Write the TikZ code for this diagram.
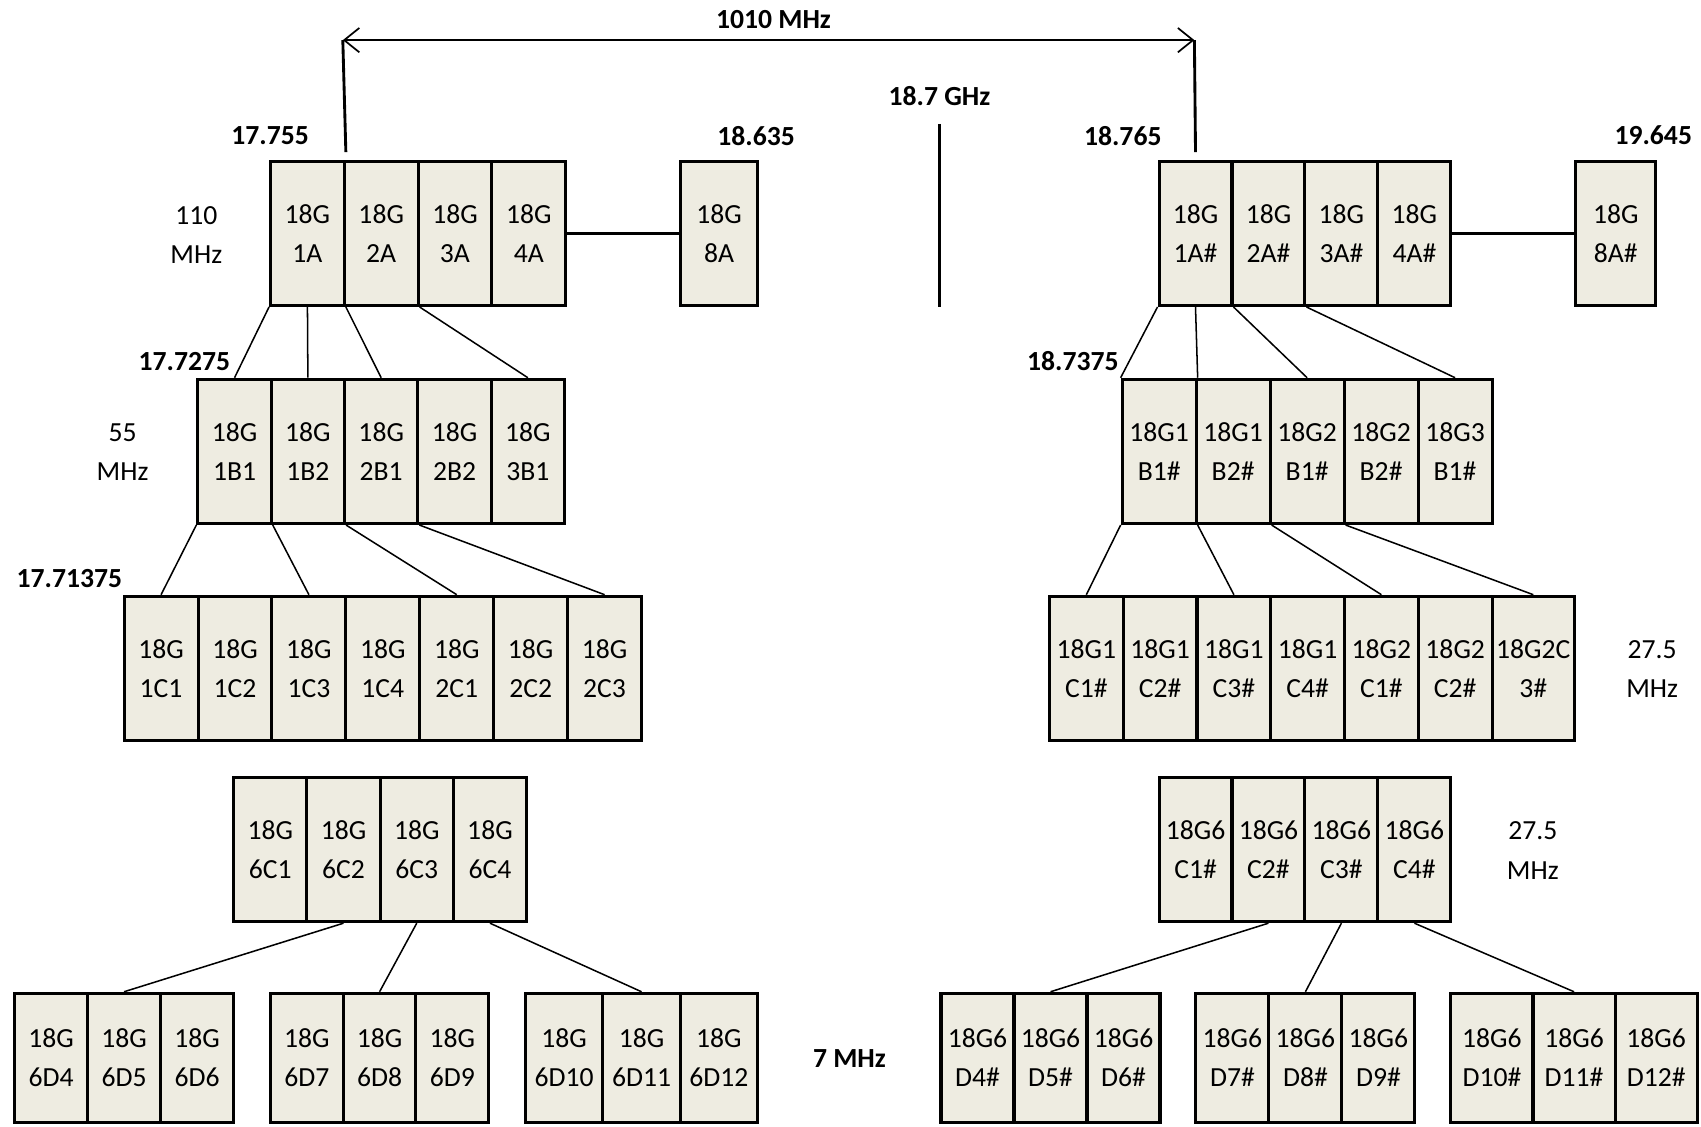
\documentclass[tikz,border=0pt]{standalone}
\usepackage{fontspec}
\setmainfont{Carlito}
\usetikzlibrary{arrows.meta}
\definecolor{cellfill}{HTML}{EEECE1}
\tikzset{
    every node/.append style={font=\fontsize{14.5}{20.5}\selectfont},
    cell/.style={draw, line width=1.6pt, fill=cellfill, align=center, inner sep=0pt, anchor=south west, minimum height=2.66cm},
    cellw/.style={minimum width=#1*0.02cm},
    lowcell/.style={cell, minimum height=2.38cm},
    freq/.style={font=\fontsize{14.5}{20.5}\selectfont\bfseries},
    bw/.style={align=center},
    link/.style={line width=0.8pt},
    marker/.style={line width=1.5pt},
    span/.style={{Straight Barb[length=0.28cm,width=0.45cm]}-{Straight Barb[length=0.28cm,width=0.45cm]}, line width=0.9pt}
}

\begin{document}
\begin{tikzpicture}[x=0.02cm, y=0.02cm]
\useasboundingbox (0,0) rectangle (1568,1038);

% left tree
\foreach \bot [count=\i] in {1A,2A,3A,4A}
    \node[cell, cellw=68] (lA\i) at ({248+(\i-1)*68},755) {18G\\\bot};
\node[cell, cellw=71] (lA8) at (626,755) {18G\\8A};
\foreach \bot [count=\i] in {1B1,1B2,2B1,2B2,3B1}
    \node[cell, cellw=67.6] (lB\i) at ({181+(\i-1)*67.6},554) {18G\\\bot};
\foreach \bot [count=\i] in {1C1,1C2,1C3,1C4,2C1,2C2,2C3}
    \node[cell, cellw=68.14] (lC\i) at ({113+(\i-1)*68.14},354) {18G\\\bot};
\foreach \bot [count=\i] in {6C1,6C2,6C3,6C4}
    \node[cell, cellw=67.5] (lE\i) at ({214+(\i-1)*67.5},187) {18G\\\bot};
\foreach \bot [count=\i] in {6D4,6D5,6D6}
    \node[lowcell, cellw=67.3] (lD\i) at ({12+(\i-1)*67.3},2) {18G\\\bot};
\foreach \bot [count=\i from 4] in {6D7,6D8,6D9}
    \node[lowcell, cellw=67] (lD\i) at ({248+(\i-4)*67},2) {18G\\\bot};
\foreach \bot [count=\i from 7] in {6D10,6D11,6D12}
    \node[lowcell, cellw=71.3] (lD\i) at ({483+(\i-7)*71.3},2) {18G\\\bot};

% right tree
\foreach \bot [count=\i] in {1A\#,2A\#,3A\#,4A\#}
    \node[cell, cellw=67.25] (rA\i) at ({1067+(\i-1)*67.25},755) {18G\\\bot};
\node[cell, cellw=74] (rA8) at (1451,755) {18G\\8A\#};
\foreach \top/\bot [count=\i] in {18G1/B1\#,18G1/B2\#,18G2/B1\#,18G2/B2\#,18G3/B1\#}
    \node[cell, cellw=68.2] (rB\i) at ({1033+(\i-1)*68.2},554) {\top\\\bot};
\foreach \top/\bot [count=\i] in {18G1/C1\#,18G1/C2\#,18G1/C3\#,18G1/C4\#,18G2/C1\#,18G2/C2\#}
    \node[cell, cellw=68] (rC\i) at ({966+(\i-1)*68},354) {\top\\\bot};
\node[cell, cellw=76] (rC7) at (1374,354) {18G2C\\3\#};
\foreach \bot [count=\i] in {C1\#,C2\#,C3\#,C4\#}
    \node[cell, cellw=67.25] (rE\i) at ({1067+(\i-1)*67.25},187) {18G6\\\bot};
\foreach \bot [count=\i] in {D4\#,D5\#,D6\#}
    \node[lowcell, cellw=67.3] (rD\i) at ({866+(\i-1)*67.3},2) {18G6\\\bot};
\foreach \bot [count=\i from 4] in {D7\#,D8\#,D9\#}
    \node[lowcell, cellw=67.3] (rD\i) at ({1101+(\i-4)*67.3},2) {18G6\\\bot};
\foreach \bot [count=\i from 7] in {D10\#,D11\#,D12\#}
    \node[lowcell, cellw=75.7] (rD\i) at ({1336+(\i-7)*75.7},2) {18G6\\\bot};

% labels
\node[freq] (span) at (713,1020) {1010 MHz};
\node[freq] (ghz) at (866,949) {18.7 GHz};
\node[freq] (fLA) at (249,913) {17.755};
\node[freq] (fLA8) at (697,913) {18.635};
\node[freq] (fRA) at (1035,913) {18.765};
\node[freq] (fRA8) at (1524,913) {19.645};
\node[freq] (fLB) at (170,705) {17.7275};
\node[freq] (fRB) at (989,705) {18.7375};
\node[freq] (fLC) at (64,505) {17.71375};
\node[freq] (fD) at (783,62) {7 MHz};
\node[bw] (bwA) at (181,821) {110\\MHz};
\node[bw] (bwB) at (113,621) {55\\MHz};
\node[bw] (bwC) at (1523,421) {27.5\\MHz};
\node[bw] (bwE) at (1413,254) {27.5\\MHz};

% span marker
\coordinate (spanL) at (316,1001);
\coordinate (spanR) at (1101,1001);
\draw[span] (spanL) -- (spanR);
\draw[marker] ([yshift=0.14cm]lA1.north east) -- (spanL);
\draw[marker] ([yshift=0.14cm]rA1.north) -- (spanR);
\draw[marker] ([yshift=-0.2cm]ghz.south) -- (ghz.south |- lA1.south);

% A to 8A
\draw[marker] (lA4.east) -- (lA8.west);
\draw[marker] (rA4.east) -- (rA8.west);

% left branches
\draw[link] (lA1.south west) -- (lB1.north);
\draw[link] (lA1.south) -- (lB2.north);
\draw[link] (lA1.south east) -- (lB3.north);
\draw[link] (lA2.south east) -- (lB5.north);
\draw[link] (lB1.south west) -- (lC1.north);
\draw[link] (lB1.south east) -- (lC3.north);
\draw[link] (lB2.south east) -- (lC5.north);
\draw[link] (lB3.south east) -- (lC7.north);
\draw[link] (lE2.south) -- (lD2.north);
\draw[link] (lE3.south) -- (lD5.north);
\draw[link] (lE4.south) -- (lD8.north);

% right branches
\draw[link] (rA1.south west) -- (rB1.north west);
\draw[link] (rA1.south) -- (rB1.north east);
\draw[link] (rA1.south east) -- (rB3.north);
\draw[link] (rA2.south east) -- (rB5.north);
\draw[link] (rB1.south west) -- (rC1.north);
\draw[link] (rB1.south east) -- (rC3.north);
\draw[link] (rB2.south east) -- (rC5.north);
\draw[link] (rB3.south east) -- (rC7.north);
\draw[link] (rE2.south) -- (rD2.north);
\draw[link] (rE3.south) -- (rD5.north);
\draw[link] (rE4.south) -- (rD8.north);
\end{tikzpicture}
\end{document}
